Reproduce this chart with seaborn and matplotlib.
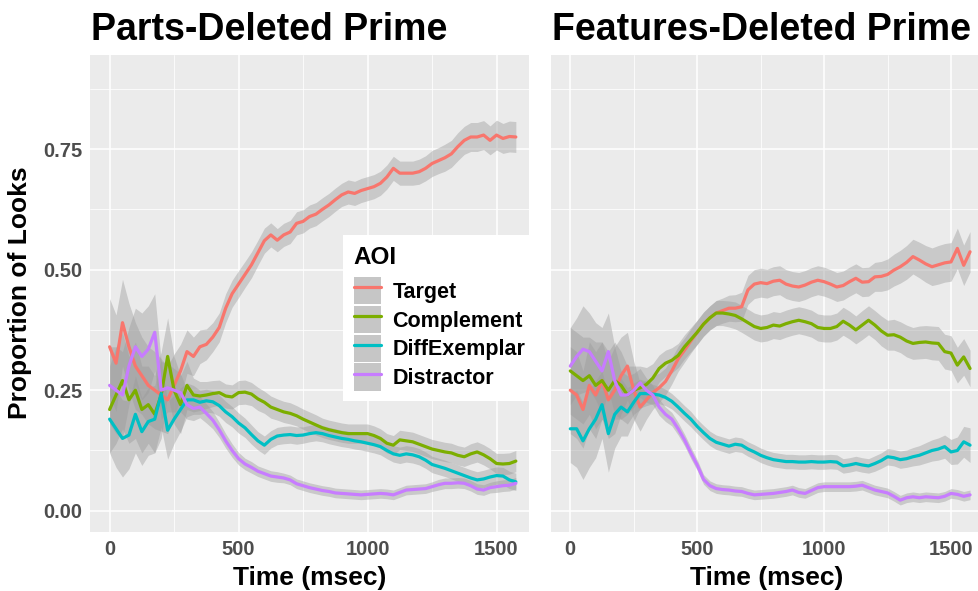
import numpy as np
import pandas as pd
import matplotlib
matplotlib.use("Agg")
import matplotlib.pyplot as plt
import seaborn as sns
from matplotlib.patches import Patch
from matplotlib.lines import Line2D
from matplotlib.ticker import MultipleLocator

# ---- data -------------------------------------------------------------
time_ms = list(range(0, 1600, 25))          # 0 .. 1575 ms
aois = ["Target", "Complement", "DiffExemplar", "Distractor"]
panels = ["Parts-Deleted Prime", "Features-Deleted Prime"]
x_ticks = [0, 500, 1000, 1500]
y_ticks = [0.00, 0.25, 0.50, 0.75]

# Parts-Deleted Prime: mean proportion of looks
parts_target = [
    0.340, 0.306, 0.390, 0.340, 0.300, 0.280, 0.260, 0.250,
    0.240, 0.230, 0.260, 0.290, 0.330, 0.320, 0.340, 0.345,
    0.360, 0.380, 0.420, 0.450, 0.470, 0.490, 0.510, 0.535,
    0.560, 0.572, 0.561, 0.572, 0.578, 0.596, 0.600, 0.610,
    0.615, 0.625, 0.634, 0.645, 0.655, 0.661, 0.658, 0.664,
    0.668, 0.672, 0.679, 0.692, 0.710, 0.700, 0.700, 0.700,
    0.703, 0.710, 0.720, 0.726, 0.732, 0.740, 0.755, 0.768,
    0.775, 0.775, 0.779, 0.768, 0.779, 0.772, 0.776, 0.775]
parts_complement = [
    0.210, 0.240, 0.270, 0.230, 0.250, 0.210, 0.220, 0.200,
    0.240, 0.320, 0.250, 0.220, 0.260, 0.240, 0.238, 0.240,
    0.243, 0.245, 0.238, 0.236, 0.245, 0.246, 0.242, 0.232,
    0.225, 0.215, 0.210, 0.205, 0.202, 0.197, 0.190, 0.184,
    0.178, 0.172, 0.168, 0.165, 0.162, 0.160, 0.160, 0.160,
    0.160, 0.156, 0.150, 0.140, 0.136, 0.147, 0.145, 0.143,
    0.138, 0.133, 0.128, 0.125, 0.122, 0.120, 0.115, 0.112,
    0.118, 0.122, 0.116, 0.108, 0.098, 0.097, 0.098, 0.103]
parts_diffexemplar = [
    0.190, 0.170, 0.150, 0.157, 0.200, 0.164, 0.185, 0.190,
    0.243, 0.167, 0.190, 0.210, 0.230, 0.230, 0.225, 0.228,
    0.226, 0.218, 0.205, 0.195, 0.182, 0.172, 0.158, 0.145,
    0.136, 0.148, 0.155, 0.157, 0.158, 0.156, 0.157, 0.160,
    0.162, 0.160, 0.156, 0.153, 0.150, 0.148, 0.145, 0.143,
    0.140, 0.137, 0.133, 0.125, 0.118, 0.115, 0.118, 0.116,
    0.112, 0.105, 0.096, 0.092, 0.088, 0.083, 0.078, 0.073,
    0.068, 0.064, 0.066, 0.070, 0.073, 0.072, 0.064, 0.060]
parts_distractor = [
    0.260, 0.250, 0.240, 0.300, 0.340, 0.320, 0.335, 0.370,
    0.250, 0.255, 0.250, 0.245, 0.220, 0.212, 0.215, 0.202,
    0.188, 0.168, 0.145, 0.125, 0.108, 0.097, 0.090, 0.082,
    0.077, 0.072, 0.070, 0.068, 0.064, 0.056, 0.052, 0.048,
    0.045, 0.042, 0.040, 0.037, 0.036, 0.035, 0.034, 0.033,
    0.034, 0.035, 0.036, 0.035, 0.033, 0.038, 0.043, 0.044,
    0.045, 0.046, 0.050, 0.054, 0.057, 0.057, 0.058, 0.057,
    0.052, 0.045, 0.043, 0.048, 0.050, 0.052, 0.053, 0.057]

# Features-Deleted Prime: mean proportion of looks
feat_target = [
    0.250, 0.240, 0.210, 0.260, 0.240, 0.270, 0.230, 0.250,
    0.280, 0.300, 0.250, 0.215, 0.230, 0.245, 0.255, 0.268,
    0.290, 0.315, 0.333, 0.352, 0.370, 0.387, 0.400, 0.410,
    0.415, 0.420, 0.420, 0.423, 0.458, 0.470, 0.473, 0.471,
    0.476, 0.478, 0.470, 0.466, 0.464, 0.468, 0.474, 0.478,
    0.475, 0.470, 0.464, 0.467, 0.475, 0.482, 0.474, 0.475,
    0.485, 0.486, 0.490, 0.499, 0.506, 0.515, 0.527, 0.520,
    0.512, 0.506, 0.510, 0.514, 0.516, 0.544, 0.509, 0.537]
feat_complement = [
    0.290, 0.280, 0.270, 0.280, 0.260, 0.270, 0.250, 0.270,
    0.260, 0.240, 0.250, 0.255, 0.262, 0.275, 0.295, 0.306,
    0.312, 0.322, 0.340, 0.355, 0.370, 0.387, 0.400, 0.410,
    0.410, 0.408, 0.405, 0.398, 0.390, 0.382, 0.378, 0.380,
    0.385, 0.383, 0.388, 0.392, 0.395, 0.392, 0.388, 0.380,
    0.378, 0.378, 0.382, 0.393, 0.385, 0.375, 0.385, 0.395,
    0.385, 0.373, 0.364, 0.365, 0.360, 0.352, 0.347, 0.349,
    0.350, 0.348, 0.347, 0.330, 0.327, 0.302, 0.319, 0.295]
feat_diffexemplar = [
    0.170, 0.170, 0.145, 0.170, 0.190, 0.220, 0.160, 0.200,
    0.215, 0.205, 0.225, 0.243, 0.243, 0.242, 0.240, 0.235,
    0.227, 0.215, 0.202, 0.190, 0.175, 0.162, 0.150, 0.142,
    0.138, 0.134, 0.138, 0.136, 0.128, 0.122, 0.115, 0.110,
    0.106, 0.104, 0.102, 0.102, 0.101, 0.101, 0.102, 0.101,
    0.101, 0.102, 0.101, 0.093, 0.095, 0.098, 0.095, 0.093,
    0.098, 0.104, 0.112, 0.110, 0.106, 0.108, 0.112, 0.115,
    0.120, 0.125, 0.128, 0.133, 0.122, 0.125, 0.143, 0.136]
feat_distractor = [
    0.300, 0.320, 0.335, 0.330, 0.310, 0.290, 0.330, 0.270,
    0.240, 0.240, 0.250, 0.265, 0.250, 0.240, 0.215, 0.200,
    0.190, 0.170, 0.147, 0.120, 0.095, 0.065, 0.052, 0.046,
    0.044, 0.043, 0.041, 0.040, 0.036, 0.033, 0.034, 0.035,
    0.036, 0.038, 0.040, 0.043, 0.038, 0.036, 0.042, 0.048,
    0.050, 0.050, 0.050, 0.050, 0.050, 0.051, 0.053, 0.048,
    0.043, 0.040, 0.037, 0.030, 0.022, 0.027, 0.029, 0.027,
    0.029, 0.028, 0.027, 0.030, 0.036, 0.034, 0.030, 0.033]

# Half-widths of the confidence ribbons
parts_target_ci = [
    0.100, 0.100, 0.090, 0.090, 0.090, 0.080, 0.080, 0.080,
    0.075, 0.070, 0.065, 0.055, 0.045, 0.040, 0.035, 0.032,
    0.030, 0.030, 0.030, 0.028, 0.028, 0.027, 0.027, 0.026,
    0.026, 0.025, 0.024, 0.024, 0.024, 0.024, 0.024, 0.024,
    0.024, 0.024, 0.024, 0.024, 0.024, 0.025, 0.025, 0.025,
    0.025, 0.025, 0.025, 0.025, 0.025, 0.025, 0.025, 0.025,
    0.026, 0.026, 0.027, 0.027, 0.028, 0.028, 0.029, 0.029,
    0.030, 0.030, 0.030, 0.030, 0.031, 0.031, 0.032, 0.032]
parts_complement_ci = [
    0.090, 0.100, 0.100, 0.090, 0.100, 0.090, 0.080, 0.080,
    0.090, 0.080, 0.070, 0.060, 0.050, 0.035, 0.030, 0.028,
    0.027, 0.026, 0.025, 0.025, 0.025, 0.025, 0.024, 0.024,
    0.023, 0.023, 0.022, 0.022, 0.022, 0.021, 0.021, 0.021,
    0.021, 0.020, 0.020, 0.020, 0.020, 0.020, 0.020, 0.020,
    0.020, 0.020, 0.020, 0.020, 0.020, 0.020, 0.020, 0.020,
    0.020, 0.020, 0.020, 0.020, 0.020, 0.020, 0.020, 0.020,
    0.021, 0.021, 0.021, 0.021, 0.021, 0.022, 0.022, 0.022]
parts_diffexemplar_ci = [
    0.070, 0.080, 0.080, 0.070, 0.080, 0.070, 0.070, 0.070,
    0.070, 0.060, 0.050, 0.045, 0.035, 0.030, 0.025, 0.024,
    0.023, 0.022, 0.022, 0.021, 0.021, 0.020, 0.020, 0.019,
    0.019, 0.018, 0.018, 0.018, 0.018, 0.018, 0.017, 0.017,
    0.017, 0.017, 0.017, 0.017, 0.017, 0.017, 0.017, 0.017,
    0.017, 0.017, 0.017, 0.017, 0.017, 0.017, 0.017, 0.017,
    0.017, 0.017, 0.017, 0.017, 0.017, 0.017, 0.017, 0.017,
    0.017, 0.017, 0.018, 0.018, 0.018, 0.018, 0.018, 0.018]
parts_distractor_ci = [
    0.080, 0.090, 0.090, 0.080, 0.080, 0.090, 0.090, 0.080,
    0.060, 0.050, 0.045, 0.040, 0.030, 0.025, 0.022, 0.020,
    0.018, 0.016, 0.015, 0.014, 0.013, 0.012, 0.012, 0.011,
    0.011, 0.011, 0.011, 0.010, 0.010, 0.010, 0.010, 0.010,
    0.010, 0.010, 0.010, 0.010, 0.010, 0.010, 0.010, 0.010,
    0.010, 0.010, 0.010, 0.010, 0.010, 0.010, 0.010, 0.010,
    0.010, 0.010, 0.010, 0.011, 0.011, 0.011, 0.011, 0.011,
    0.011, 0.011, 0.011, 0.011, 0.012, 0.012, 0.012, 0.012]
feat_target_ci = [
    0.090, 0.090, 0.080, 0.090, 0.090, 0.080, 0.080, 0.090,
    0.080, 0.070, 0.060, 0.050, 0.040, 0.035, 0.030, 0.028,
    0.027, 0.026, 0.025, 0.025, 0.025, 0.025, 0.025, 0.026,
    0.026, 0.027, 0.028, 0.030, 0.030, 0.030, 0.030, 0.030,
    0.030, 0.030, 0.030, 0.030, 0.030, 0.030, 0.030, 0.030,
    0.030, 0.030, 0.030, 0.030, 0.030, 0.030, 0.030, 0.030,
    0.030, 0.031, 0.032, 0.033, 0.034, 0.035, 0.036, 0.037,
    0.038, 0.039, 0.040, 0.040, 0.040, 0.042, 0.042, 0.042]
feat_complement_ci = [
    0.090, 0.090, 0.090, 0.080, 0.090, 0.080, 0.080, 0.080,
    0.070, 0.060, 0.050, 0.045, 0.035, 0.030, 0.028, 0.027,
    0.026, 0.025, 0.025, 0.025, 0.025, 0.025, 0.025, 0.026,
    0.026, 0.027, 0.028, 0.028, 0.028, 0.028, 0.028, 0.028,
    0.028, 0.028, 0.028, 0.028, 0.028, 0.028, 0.028, 0.028,
    0.028, 0.028, 0.028, 0.029, 0.029, 0.029, 0.030, 0.030,
    0.030, 0.031, 0.031, 0.032, 0.032, 0.033, 0.033, 0.034,
    0.034, 0.035, 0.035, 0.036, 0.036, 0.037, 0.038, 0.038]
feat_diffexemplar_ci = [
    0.070, 0.080, 0.080, 0.080, 0.080, 0.070, 0.080, 0.070,
    0.060, 0.050, 0.040, 0.030, 0.025, 0.020, 0.018, 0.017,
    0.016, 0.016, 0.016, 0.016, 0.015, 0.015, 0.015, 0.015,
    0.015, 0.015, 0.015, 0.015, 0.015, 0.015, 0.015, 0.015,
    0.015, 0.015, 0.015, 0.015, 0.015, 0.015, 0.015, 0.015,
    0.015, 0.015, 0.015, 0.015, 0.015, 0.015, 0.015, 0.015,
    0.016, 0.016, 0.017, 0.017, 0.018, 0.018, 0.019, 0.020,
    0.021, 0.022, 0.023, 0.024, 0.026, 0.028, 0.032, 0.036]
feat_distractor_ci = [
    0.080, 0.080, 0.090, 0.080, 0.080, 0.090, 0.080, 0.070,
    0.050, 0.040, 0.035, 0.030, 0.025, 0.020, 0.017, 0.015,
    0.014, 0.013, 0.012, 0.012, 0.011, 0.010, 0.010, 0.010,
    0.010, 0.010, 0.010, 0.010, 0.010, 0.010, 0.010, 0.010,
    0.010, 0.010, 0.010, 0.010, 0.010, 0.010, 0.010, 0.010,
    0.010, 0.010, 0.010, 0.010, 0.010, 0.010, 0.010, 0.010,
    0.010, 0.010, 0.010, 0.010, 0.010, 0.010, 0.010, 0.010,
    0.010, 0.010, 0.010, 0.010, 0.010, 0.010, 0.010, 0.010]

# ---- long table ---------------------------------------------------------
series = {
    panels[0]: [(parts_target, parts_target_ci), (parts_complement, parts_complement_ci),
                (parts_diffexemplar, parts_diffexemplar_ci), (parts_distractor, parts_distractor_ci)],
    panels[1]: [(feat_target, feat_target_ci), (feat_complement, feat_complement_ci),
                (feat_diffexemplar, feat_diffexemplar_ci), (feat_distractor, feat_distractor_ci)],
}
rows = []
for panel, lst in series.items():
    for aoi, (vals, ci) in zip(aois, lst):
        for t, v, h in zip(time_ms, vals, ci):
            rows.append((panel, aoi, t, v, v - h, v + h))
df = pd.DataFrame(rows, columns=["Panel", "AOI", "Time", "Prop", "Lo", "Hi"])

# ---- style --------------------------------------------------------------
sns.set_theme(style="darkgrid")
plt.rcParams["font.family"] = ["Liberation Sans", "DejaVu Sans"]
plt.rcParams["text.color"] = "black"
palette = {"Target": "#F8766D", "Complement": "#7CAE00",
           "DiffExemplar": "#00BFC4", "Distractor": "#C77CFF"}
ribbon_color = "#9A9A9A"
ribbon_alpha = 0.42
key_fill = "#C6C6C6"

W, H = 979, 591
fig = plt.figure(figsize=(W / 100, H / 100), dpi=100)
fig.patch.set_facecolor("white")
bottom = 1 - 532 / H
height = 477 / H
axL = fig.add_axes([90 / W, bottom, 439 / W, height])
axR = fig.add_axes([551 / W, bottom, 432 / W, height], sharey=axL)

for ax, panel in zip([axL, axR], panels):
    sub = df[df["Panel"] == panel]
    ax.set_facecolor("#EBEBEB")
    for aoi in aois:
        s = sub[sub["AOI"] == aoi]
        ax.fill_between(s["Time"], s["Lo"], s["Hi"], color=ribbon_color,
                        alpha=ribbon_alpha, lw=0, zorder=1)
    sns.lineplot(data=sub, x="Time", y="Prop", hue="AOI", hue_order=aois,
                 palette=palette, ax=ax, legend=False, errorbar=None,
                 linewidth=2.3, zorder=3)
    ax.set_xlim(-76, 1626)
    ax.set_ylim(-0.044, 0.945)
    ax.set_xticks(x_ticks)
    ax.xaxis.set_minor_locator(MultipleLocator(250))
    ax.set_yticks(y_ticks)
    ax.yaxis.set_minor_locator(MultipleLocator(0.125))
    ax.grid(which="major", color="white", linewidth=1.15, zorder=0)
    ax.grid(which="minor", color="white", linewidth=0.55, zorder=0)
    ax.set_axisbelow(True)
    for sp in ax.spines.values():
        sp.set_visible(False)
    ax.tick_params(axis="both", which="major", length=3, width=1.0,
                   color="#333333", labelcolor="#4D4D4D", labelsize=14.5, pad=2.5)
    ax.tick_params(axis="both", which="minor", length=0)
    for lab in ax.get_xticklabels() + ax.get_yticklabels():
        lab.set_fontweight("bold")
    ax.set_xlabel("")
    ax.set_ylabel("")

axL.set_yticklabels([f"{v:.2f}" for v in y_ticks], fontweight="bold")
axR.tick_params(axis="y", left=False, labelleft=False)

# panel titles
fig.text(91 / W, 1 - 40 / H, panels[0], fontsize=27, fontweight="bold",
         color="black", ha="left", va="baseline")
fig.text(552 / W, 1 - 40 / H, panels[1], fontsize=27, fontweight="bold",
         color="black", ha="left", va="baseline")

# axis titles
for x0, w in [(90, 439), (551, 432)]:
    fig.text((x0 + w / 2) / W, 1 - 585 / H, "Time (msec)", fontsize=19,
             fontweight="bold", color="black", ha="center", va="baseline")
fig.text(20 / W, 1 - 293 / H, "Proportion of Looks", fontsize=19,
         fontweight="bold", color="black", rotation=90, ha="center", va="center")

# legend inside the left panel
handles = [(Patch(facecolor=key_fill, lw=0),
            Line2D([], [], color=palette[a], lw=2.3)) for a in aois]
leg = fig.legend(handles, aois, loc="upper left",
                 bbox_to_anchor=(343 / W, 1 - 235 / H), bbox_transform=fig.transFigure,
                 frameon=True, facecolor="white", edgecolor="none", framealpha=1,
                 fancybox=False, borderpad=0.5, borderaxespad=0,
                 handlelength=1.25, handleheight=1.57, handletextpad=0.55,
                 labelspacing=0.07, title="AOI", alignment="left",
                 prop={"size": 15.5, "weight": "bold"},
                 title_fontproperties={"size": 17.5, "weight": "bold"})
leg._legend_box.sep = 6
leg.set_zorder(10)

fig.savefig("out.png", dpi=100)
